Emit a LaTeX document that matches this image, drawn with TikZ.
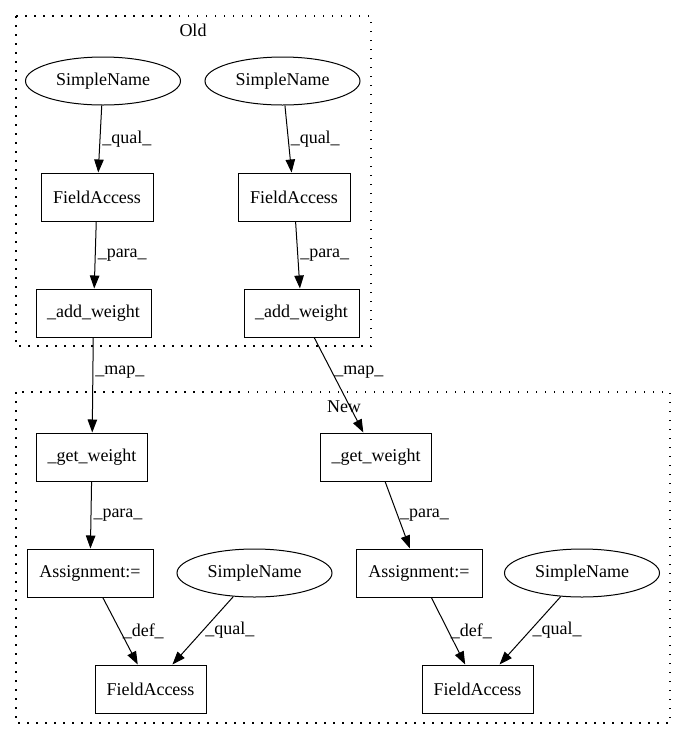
\documentclass[tikz,border=0pt]{standalone}
\usepackage{fontspec}
\setmainfont{Liberation Serif}
\usetikzlibrary{arrows.meta}
\usetikzlibrary{shapes.geometric}

\begin{document}
\begin{tikzpicture}[x=1pt, y=-1pt,
    txt/.style={font=\fontsize{18}{21}\selectfont},
    box/.style={txt, rectangle, draw, line width=1pt, inner sep=0pt, minimum width=111pt, minimum height=48pt},
    oval/.style={txt, ellipse, draw, line width=1pt, inner sep=0pt, minimum width=155pt, minimum height=48pt},
    edge/.style={-{Triangle[length=13pt, width=9.5pt]}, line width=1pt},
    lbl/.style={txt, right, inner sep=2pt},
    cluster/.style={draw, line width=1.3pt, dash pattern=on 1.5pt off 7.5pt}]
    \useasboundingbox (0,0) rectangle (687,740);

    % clusters
    \draw[cluster] (16,16) rectangle (371,346);
    \node[txt] (old) at (193,30) {Old};
    \draw[cluster] (16,392) rectangle (670,723);
    \node[txt] (new) at (344,407) {New};

    % old
    \node[oval] (sn1) at (103,81) {SimpleName};
    \node[oval] (sn2) at (282.5,81) {SimpleName};
    \node[box, minimum width=112pt] (fa1) at (97,197) {FieldAccess};
    \node[box, minimum width=112pt] (fa2) at (294,197) {FieldAccess};
    \node[box, minimum width=115pt] (aw1) at (93.5,313) {\_add\_weight};
    \node[box, minimum width=115pt] (aw2) at (301.5,313) {\_add\_weight};

    % new
    \node[box] (gw1) at (92,457) {\_get\_weight};
    \node[box] (gw2) at (376,457) {\_get\_weight};
    \node[box, minimum width=126pt] (as1) at (90,573) {Assignment:=};
    \node[box, minimum width=126pt] (as2) at (419,573) {Assignment:=};
    \node[oval] (sn3) at (254.5,573) {SimpleName};
    \node[oval] (sn4) at (582,573) {SimpleName};
    \node[box] (fa3) at (150.5,689) {FieldAccess};
    \node[box] (fa4) at (477.5,689) {FieldAccess};

    \draw[edge] (sn1) -- node[lbl] {\_qual\_} (fa1);
    \draw[edge] (sn2) -- node[lbl] {\_qual\_} (fa2);
    \draw[edge] (fa1) -- node[lbl] {\_para\_} (aw1);
    \draw[edge] (fa2) -- node[lbl] {\_para\_} (aw2);

    \draw[edge] (aw1) -- node[lbl, pos=0.36] {\_map\_} (gw1);
    \draw[edge] (aw2) -- node[lbl, pos=0.36] {\_map\_} (gw2);

    \draw[edge] (gw1) -- node[lbl] {\_para\_} (as1);
    \draw[edge] (gw2) -- node[lbl] {\_para\_} (as2);
    \draw[edge] (as1) -- node[lbl] {\_def\_} (fa3);
    \draw[edge] (sn3) -- node[lbl] {\_qual\_} (fa3);
    \draw[edge] (as2) -- node[lbl] {\_def\_} (fa4);
    \draw[edge] (sn4) -- node[lbl] {\_qual\_} (fa4);
  \end{tikzpicture}
\end{document}
